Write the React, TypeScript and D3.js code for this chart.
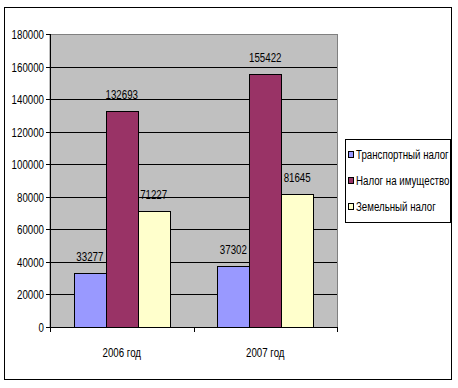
import React from "react";
import * as d3 from "d3";

const categories = ["2006 год", "2007 год"];
const seriesNames = ["Транспортный налог", "Налог на имущество", "Земельный налог"];
const transport = [33277, 37302];
const property = [132693, 155422];
const land = [71227, 81645];
const yTicks = [0, 20000, 40000, 60000, 80000, 100000, 120000, 140000, 160000, 180000];
const colors = ["#9999FF", "#993366", "#FFFFCC"];

const FONT = "'Liberation Sans', Arial, sans-serif";
const FS = 13.5;
const SX = 0.72;

function T({ x, y, anchor = "start", children }: { x: number; y: number; anchor?: string; children: React.ReactNode }) {
  return (
    <g transform={`translate(${x},${y}) scale(${SX},1)`}>
      <text x={0} y={0} textAnchor={anchor as any} fontFamily={FONT} fontSize={FS} fill="#000">
        {children}
      </text>
    </g>
  );
}

export default function App() {
  const W = 458, H = 388;
  const left = 50, right = 337, top = 34, bottom = 327;
  const series = [transport, property, land];

  const y = d3.scaleLinear().domain([0, 180000]).range([bottom, top]);
  const x0 = d3.scaleBand().domain(categories).range([left, right]).paddingInner(0).paddingOuter(0);
  const x1 = d3.scaleBand().domain(seriesNames).range([0, x0.bandwidth()]).paddingOuter(0.75).paddingInner(0);

  return (
    <svg width={W} height={H} style={{ position: "absolute", left: 0, top: 0, background: "#fff" }}>
      <rect x={4.5} y={7.5} width={447} height={372} fill="#fff" stroke="#000" strokeWidth={1} />
      <rect x={left} y={top + 0.5} width={right - left + 0.5} height={bottom - top} fill="#C0C0C0" stroke="#808080" strokeWidth={1} />
      {yTicks.filter((t) => t > 0 && t < 180000).map((t) => (
        <line key={t} x1={left} x2={right} y1={Math.round(y(t)) + 0.5} y2={Math.round(y(t)) + 0.5} stroke="#000" strokeWidth={1} />
      ))}
      {categories.map((c, ci) =>
        series.map((s, si) => {
          const bx = (x0(c) as number) + (x1(seriesNames[si]) as number);
          const bw = x1.bandwidth();
          const by = y(s[ci]);
          return (
            <g key={c + si}>
              <rect x={Math.round(bx) + 0.5} y={Math.round(by) + 0.5} width={Math.round(bw)} height={Math.round(bottom - by)} fill={colors[si]} stroke="#000" strokeWidth={1} />
              <T x={bx + bw / 2} y={by - 12} anchor="middle">{s[ci]}</T>
            </g>
          );
        })
      )}
      {/* y axis */}
      <line x1={left + 0.5} x2={left + 0.5} y1={top} y2={bottom} stroke="#000" />
      {yTicks.map((t) => (
        <g key={"yt" + t}>
          <line x1={left - 4} x2={left} y1={Math.round(y(t)) + 0.5} y2={Math.round(y(t)) + 0.5} stroke="#000" />
          <T x={left - 6} y={y(t) + 5} anchor="end">{t}</T>
        </g>
      ))}
      {/* x axis */}
      <line x1={left} x2={right} y1={bottom + 0.5} y2={bottom + 0.5} stroke="#000" />
      {[left, left + x0.bandwidth(), right].map((px, i) => (
        <line key={"xt" + i} x1={Math.round(px) + 0.5} x2={Math.round(px) + 0.5} y1={bottom} y2={bottom + 5} stroke="#000" />
      ))}
      {categories.map((c) => (
        <T key={"xl" + c} x={(x0(c) as number) + x0.bandwidth() / 2} y={357} anchor="middle">{c}</T>
      ))}
      {/* legend */}
      <rect x={345.5} y={139.5} width={105} height={83} fill="#fff" stroke="#000" />
      {seriesNames.map((n, i) => {
        const cy = 154 + i * 26;
        return (
          <g key={"lg" + n}>
            <rect x={348.5} y={cy - 2.5} width={5} height={6} fill={colors[i]} stroke="#000" />
            <T x={356} y={cy + 5}>{n}</T>
          </g>
        );
      })}
    </svg>
  );
}
